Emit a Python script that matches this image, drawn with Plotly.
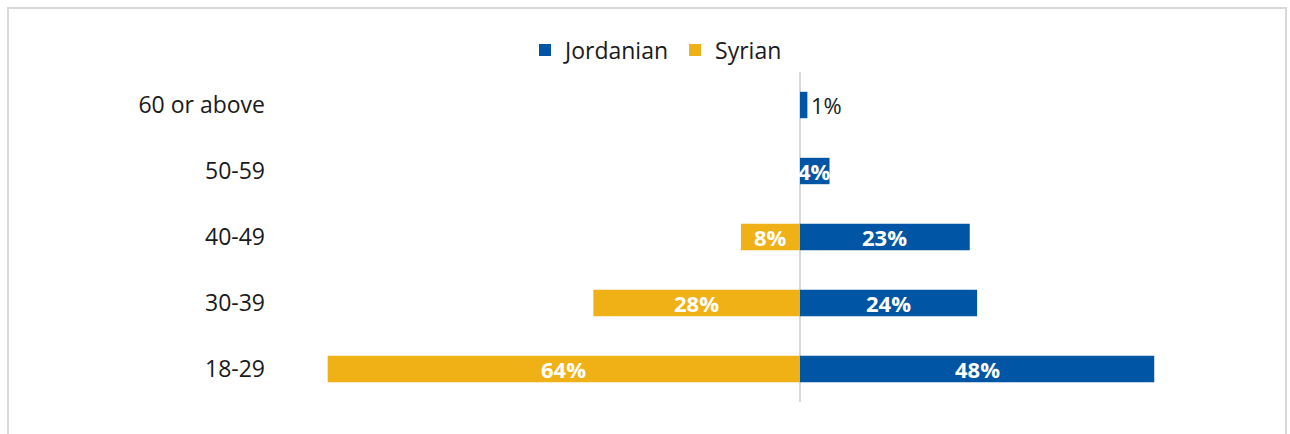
import plotly.graph_objects as go

# Age groups, bottom to top
age_groups = ["18-29", "30-39", "40-49", "50-59", "60 or above"]
jordanian = [48, 24, 23, 4, 1]
syrian = [64, 28, 8, 0, 0]

BLUE = "#0055A4"
YELLOW = "#F0B116"
GRID = "#D9D9D9"
FONT = "Open Sans"
TEXT = "#1a1a1a"
FS = 23

W, H = 1290, 434
ML, MR, MT, MB = 275, 20, 72, 32
PW, PH = W - ML - MR, H - MT - MB
ZERO_PX = 800          # pixel column of the zero line
PX_PER_UNIT = 7.38     # horizontal scale
x_min = -(ZERO_PX - ML) / PX_PER_UNIT
x_max = (W - MR - ZERO_PX) / PX_PER_UNIT


def px_to_paper_x(px):
    return (px - ML) / PW


def px_to_paper_y(py):
    return 1 - (py - MT) / PH


fig = go.Figure()
fig.add_trace(go.Bar(
    y=age_groups, x=jordanian, orientation="h", name="Jordanian",
    marker=dict(color=BLUE, line=dict(width=0)), hoverinfo="skip",
    showlegend=False,
))
fig.add_trace(go.Bar(
    y=age_groups, x=[-v for v in syrian], orientation="h", name="Syrian",
    marker=dict(color=YELLOW, line=dict(width=0)), hoverinfo="skip",
    showlegend=False,
))
# Square legend keys
for name, color in [("Jordanian", BLUE), ("Syrian", YELLOW)]:
    fig.add_trace(go.Scatter(
        x=[None], y=[None], mode="markers", name=name,
        marker=dict(symbol="square", size=12, color=color),
        hoverinfo="skip",
    ))

annotations = []
# Value labels, computed from the same series as the bars
for cat, v in zip(age_groups, jordanian):
    if v <= 0:
        continue
    if v < 3:
        annotations.append(dict(
            x=v, y=cat, xref="x", yref="y", text=f"{v}%", showarrow=False,
            xanchor="left", xshift=2,
            font=dict(family=FONT, size=FS - 1, color=TEXT),
        ))
    else:
        annotations.append(dict(
            x=v / 2, y=cat, xref="x", yref="y", text=f"<b>{v}%</b>", showarrow=False,
            xanchor="center",
            font=dict(family=FONT, size=FS - 1, color="white"),
        ))
for cat, v in zip(age_groups, syrian):
    if v <= 0:
        continue
    annotations.append(dict(
        x=-v / 2, y=cat, xref="x", yref="y", text=f"<b>{v}%</b>", showarrow=False,
        xanchor="center",
        font=dict(family=FONT, size=FS - 1, color="white"),
    ))

fig.update_layout(
    width=W, height=H,
    margin=dict(l=ML, r=MR, t=MT, b=MB, pad=0),
    paper_bgcolor="white", plot_bgcolor="white",
    barmode="relative", bargap=0.6,
    showlegend=True,
    legend=dict(
        orientation="h", x=px_to_paper_x(656), xanchor="center",
        y=px_to_paper_y(50), yanchor="middle",
        font=dict(family=FONT, size=FS, color=TEXT),
        traceorder="normal", itemclick=False, itemdoubleclick=False,
        itemwidth=30, tracegroupgap=0,
    ),
    font=dict(family=FONT, size=FS, color=TEXT),
    xaxis=dict(
        range=[x_min, x_max], showgrid=False, showticklabels=False,
        zeroline=True, zerolinecolor=GRID, zerolinewidth=2, fixedrange=True,
    ),
    yaxis=dict(
        showgrid=False, zeroline=False, showline=False, ticks="",
        ticklabelstandoff=9, fixedrange=True,
        tickfont=dict(family=FONT, size=FS, color=TEXT),
    ),
    annotations=annotations,
    shapes=[dict(
        type="rect", xref="paper", yref="paper",
        x0=px_to_paper_x(8), x1=px_to_paper_x(1286),
        y0=px_to_paper_y(450), y1=px_to_paper_y(8),
        line=dict(color=GRID, width=2), fillcolor="rgba(0,0,0,0)", layer="below",
    )],
)

fig.write_html("out.html", config={"displayModeBar": False})
